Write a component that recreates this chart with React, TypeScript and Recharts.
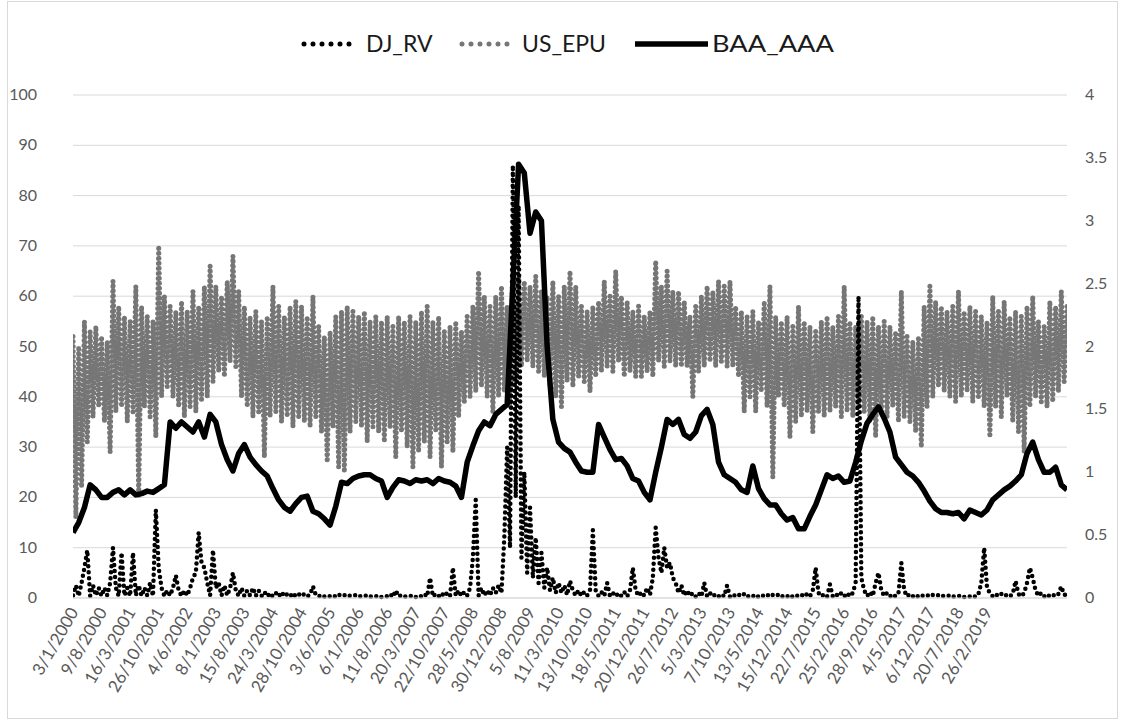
import React from 'react';
import { LineChart, Line, XAxis, YAxis, CartesianGrid } from 'recharts';

const tickLabels = [
  '3/1/2000', '9/8/2000', '16/3/2001', '26/10/2001', '4/6/2002', '8/1/2003', '15/8/2003',
  '24/3/2004', '28/10/2004', '3/6/2005', '6/1/2006', '11/8/2006', '20/3/2007', '22/10/2007',
  '28/5/2008', '30/12/2008', '5/8/2009', '11/3/2010', '13/10/2010', '18/5/2011', '20/12/2011',
  '26/7/2012', '5/3/2013', '7/10/2013', '13/5/2014', '15/12/2014', '22/7/2015', '25/2/2016',
  '28/9/2016', '4/5/2017', '6/12/2017', '20/7/2018', '26/2/2019',
];

const leftTicks = [0, 10, 20, 30, 40, 50, 60, 70, 80, 90, 100];
const rightTicks = [0, 0.5, 1, 1.5, 2, 2.5, 3, 3.5, 4];

// US_EPU upper / lower swings (every other observation)
const epuHigh = [
  52, 50, 55, 53, 54, 52, 51, 63, 58, 56,
  55, 62, 58, 56, 55, 70, 60, 58, 57, 59,
  57, 61, 58, 62, 66, 62, 60, 63, 68, 61,
  58, 56, 57, 55, 56, 62, 58, 56, 58, 59,
  58, 56, 60, 54, 52, 53, 56, 57, 58, 57,
  56, 57, 55, 56, 55, 56, 54, 56, 55, 56,
  55, 57, 58, 55, 56, 53, 54, 55, 53, 56,
  58, 65, 60, 58, 60, 62, 58, 60, 64, 63,
  62, 64, 61, 60, 63, 60, 62, 65, 62, 58,
  57, 58, 59, 63, 60, 65, 60, 59, 57, 58,
  56, 57, 67, 62, 65, 61, 61, 59, 56, 58,
  60, 62, 61, 63, 62, 63, 58, 57, 56, 57,
  55, 59, 62, 56, 55, 56, 54, 58, 55, 54,
  53, 55, 56, 54, 56, 62, 55, 54, 56, 55,
  56, 54, 55, 54, 53, 61, 52, 51, 52, 58,
  62, 59, 58, 57, 58, 61, 57, 58, 57, 56,
  55, 60, 57, 59, 56, 57, 56, 58, 60, 55,
  54, 59, 58, 61, 58,
];
const epuLow = [
  16, 22, 31, 36, 38, 35, 29, 37, 38, 35,
  37, 20, 38, 36, 32, 40, 42, 40, 38, 36,
  38, 37, 39, 40, 43, 45, 44, 47, 46, 40,
  38, 36, 37, 28, 36, 37, 35, 36, 34, 36,
  35, 34, 36, 33, 27, 34, 26, 25, 33, 35,
  34, 31, 34, 33, 31, 34, 28, 33, 30, 26,
  29, 31, 28, 33, 26, 31, 29, 36, 39, 40,
  41, 42, 40, 37, 40, 41, 38, 43, 46, 47,
  46, 45, 44, 42, 40, 38, 43, 42, 44, 43,
  41, 44, 45, 46, 45, 47, 44, 45, 44, 44,
  45, 44, 47, 46, 47, 46, 46, 46, 40, 45,
  46, 47, 46, 47, 46, 46, 44, 37, 40, 37,
  41, 38, 24, 40, 38, 32, 35, 36, 37, 33,
  37, 36, 37, 38, 36, 37, 36, 38, 37, 35,
  32, 37, 36, 38, 35, 36, 35, 33, 30, 38,
  40, 42, 41, 40, 39, 40, 41, 39, 40, 38,
  32, 38, 36, 40, 35, 33, 29, 38, 40, 39,
  38, 39, 41, 43,
];

const djRv = [
  0.5, 2.5, 0.4, 3, 6, 9.5, 0.4, 2.5, 0.5, 2,
  0.4, 2, 0.5, 3, 10, 2, 0.4, 9, 0.5, 2,
  0.4, 9, 0.5, 2.5, 0.4, 2, 0.5, 3, 0.4, 17.5,
  6, 2, 0.4, 1.5, 0.5, 2, 4.5, 1.5, 0.4, 1.5,
  0.5, 2, 4, 5, 13, 7, 6, 3, 0.5, 9.5,
  2, 3, 0.5, 2.5, 0.5, 2, 5, 1.5, 0.4, 2,
  0.4, 1.5, 0.5, 2, 0.4, 1.5, 0.4, 1.2, 0.3, 1,
  0.3, 1, 0.3, 1.2, 0.3, 0.8, 0.3, 1, 0.3, 0.8,
  0.3, 0.8, 0.3, 0.7, 2.3, 0.6, 0.3, 0.7, 0.3, 0.6,
  0.3, 0.6, 0.2, 0.7, 0.3, 0.6, 0.2, 0.5, 0.3, 0.6,
  0.2, 0.5, 0.3, 0.6, 0.2, 0.5, 0.3, 0.6, 0.2, 0.5,
  0.3, 0.8, 0.2, 1.5, 0.3, 0.6, 0.2, 0.5, 0.3, 0.6,
  0.2, 0.6, 0.3, 0.8, 0.3, 4, 0.3, 0.8, 0.3, 1,
  0.3, 1, 0.4, 6, 0.4, 1.5, 0.4, 1.2, 0.5, 2,
  8, 19.5, 0.5, 2, 0.5, 1.5, 0.5, 2, 1, 2.5,
  1, 12, 30, 10, 86, 20, 78, 8, 25, 5,
  18, 4, 12, 3, 9, 2, 6, 1.5, 4, 1,
  3, 1, 2.5, 0.6, 3.4, 1.5, 0.5, 1.5, 0.4, 1.2,
  0.5, 1.5, 13.5, 1.5, 0.4, 1.2, 0.4, 3, 0.4, 1,
  0.3, 1, 0.4, 1.2, 0.3, 1.5, 6, 1.5, 0.4, 1.2,
  0.5, 2, 0.6, 4, 14, 8, 5, 10, 6, 7,
  4, 3, 1, 2.5, 0.5, 1.5, 0.4, 1, 0.3, 1,
  0.3, 3, 0.3, 1, 0.3, 0.8, 0.3, 0.8, 0.3, 2.5,
  0.3, 0.8, 0.3, 0.7, 0.3, 0.8, 0.2, 0.6, 0.3, 0.7,
  0.2, 0.6, 0.3, 0.7, 0.2, 0.6, 0.3, 0.7, 0.2, 0.6,
  0.3, 0.7, 0.2, 0.6, 0.3, 0.7, 0.2, 0.8, 0.3, 1.5,
  6, 1, 0.3, 0.8, 0.3, 2.7, 0.3, 0.8, 0.3, 1,
  0.3, 1, 0.3, 1, 3, 60, 4, 1.5, 0.4, 1.2,
  0.4, 3, 5, 1.5, 0.4, 1, 0.3, 0.8, 0.3, 1,
  7, 1.5, 0.3, 0.8, 0.3, 0.7, 0.2, 0.6, 0.3, 0.6,
  0.2, 0.6, 0.3, 0.6, 0.2, 0.5, 0.3, 0.6, 0.2, 0.5,
  0.3, 0.6, 0.2, 0.5, 0.3, 0.6, 0.2, 0.8, 3, 10,
  2, 1, 0.3, 0.8, 0.3, 0.8, 0.3, 0.7, 0.3, 0.8,
  3.4, 0.8, 0.3, 1, 3, 6, 4, 1.5, 0.4, 1,
  0.3, 0.8, 0.3, 0.7, 0.3, 0.8, 2.3, 0.6, 0.8,
];

// BAA_AAA spread (every other observation)
const baaAaa = [
  0.52, 0.6, 0.72, 0.9, 0.86, 0.8, 0.8, 0.84, 0.86, 0.82,
  0.86, 0.82, 0.83, 0.85, 0.84, 0.87, 0.9, 1.4, 1.35, 1.4,
  1.36, 1.32, 1.4, 1.28, 1.46, 1.4, 1.22, 1.1, 1.01, 1.15,
  1.22, 1.12, 1.06, 1.01, 0.97, 0.87, 0.78, 0.72, 0.69, 0.75,
  0.8, 0.81, 0.69, 0.67, 0.63, 0.58, 0.73, 0.92, 0.91, 0.95,
  0.97, 0.98, 0.98, 0.95, 0.93, 0.8, 0.88, 0.94, 0.93, 0.91,
  0.94, 0.93, 0.94, 0.91, 0.95, 0.93, 0.92, 0.89, 0.8, 1.08,
  1.21, 1.33, 1.4, 1.37, 1.46, 1.5, 1.54, 2.5, 3.45, 3.38,
  2.9, 3.07, 3.0, 2.0, 1.42, 1.24, 1.19, 1.16, 1.08, 1.01,
  1.0, 1.0, 1.38, 1.28, 1.18, 1.1, 1.11, 1.05, 0.95, 0.93,
  0.84, 0.78, 1.0, 1.2, 1.42, 1.38, 1.42, 1.3, 1.27, 1.32,
  1.45, 1.5, 1.38, 1.08, 0.98, 0.95, 0.92, 0.86, 0.84, 1.05,
  0.87, 0.79, 0.74, 0.74, 0.67, 0.62, 0.64, 0.55, 0.55, 0.65,
  0.74, 0.86, 0.98, 0.95, 0.97, 0.92, 0.93, 1.08, 1.25, 1.39,
  1.46, 1.52, 1.43, 1.32, 1.12, 1.06, 1.0, 0.97, 0.92, 0.85,
  0.77, 0.71, 0.68, 0.68, 0.67, 0.68, 0.63, 0.7, 0.68, 0.66,
  0.7, 0.78, 0.82, 0.86, 0.89, 0.93, 0.98, 1.15, 1.24, 1.1,
  1.0, 1.0, 1.04, 0.9, 0.86,
];

const data = djRv.map((dj, i) => ({
  x: i,
  epu: i % 2 === 0 ? epuHigh[i / 2] : epuLow[(i - 1) / 2],
  dj,
  baa: i % 2 === 0 ? baaAaa[i / 2] : null,
}));

const xTicks = tickLabels.map((_, i) => i * 10);
const FONT = 'Lato, "Open Sans", sans-serif';
const AXIS_COLOR = '#595959';

const XTick = (props: any) => {
  const { x, payload } = props;
  const label = tickLabels[Math.round(payload.value / 10)];
  return (
    <text
      transform={`translate(${x + 6},${612}) rotate(-60)`}
      textAnchor="end"
      fontSize={17}
      fontFamily={FONT}
      fill={AXIS_COLOR}
    >
      {label}
    </text>
  );
};

const LeftTick = (props: any) => {
  const { y, payload } = props;
  return (
    <text x={37} y={y} dy={5} textAnchor="end" fontSize={16} fontFamily={FONT} fill={AXIS_COLOR}>
      {payload.value}
    </text>
  );
};

const RightTick = (props: any) => {
  const { y, payload } = props;
  return (
    <text x={1085} y={y} dy={5} textAnchor="start" fontSize={16} fontFamily={FONT} fill={AXIS_COLOR}>
      {payload.value}
    </text>
  );
};

const Legend = () => (
  <svg
    width={1123}
    height={80}
    style={{ position: 'absolute', left: 0, top: 0, pointerEvents: 'none' }}
  >
    <line x1={304} y1={44} x2={358} y2={44} stroke="#000" strokeWidth={5} strokeDasharray="0 9" strokeLinecap="round" />
    <text x={366} y={52} fontSize={23} fontFamily={FONT} fill="#1a1a1a">DJ_RV</text>
    <line x1={462} y1={44} x2={516} y2={44} stroke="#767676" strokeWidth={5} strokeDasharray="0 9" strokeLinecap="round" />
    <text x={522} y={52} fontSize={23} fontFamily={FONT} fill="#1a1a1a">US_EPU</text>
    <line x1={635} y1={44} x2={708} y2={44} stroke="#000" strokeWidth={5.5} />
    <text x={712} y={52} fontSize={23} fontFamily={FONT} fill="#1a1a1a" textLength={122} lengthAdjust="spacingAndGlyphs">BAA_AAA</text>
  </svg>
);

export default function App() {
  return (
    <div style={{ position: 'absolute', left: 0, top: 0, width: 1123, height: 723, background: '#fff' }}>
      <div
        style={{
          position: 'absolute',
          left: 7,
          top: 1,
          width: 1111,
          height: 718,
          border: '1px solid #d9d9d9',
          boxSizing: 'border-box',
        }}
      />
      <LineChart
        width={1123}
        height={723}
        data={data}
        margin={{ top: 95, right: 0, bottom: 0, left: 0 }}
        style={{ position: 'absolute', left: 0, top: 0 }}
      >
        <CartesianGrid vertical={false} stroke="#d9d9d9" yAxisId="left" />
        <XAxis
          dataKey="x"
          type="number"
          domain={[0, 348]}
          ticks={xTicks}
          interval={0}
          height={125}
          axisLine={{ stroke: '#d9d9d9' }}
          tickLine={false}
          tick={<XTick />}
          allowDataOverflow
        />
        <YAxis
          yAxisId="left"
          domain={[0, 100]}
          ticks={leftTicks}
          width={73}
          axisLine={false}
          tickLine={false}
          tick={<LeftTick />}
          interval={0}
        />
        <YAxis
          yAxisId="right"
          orientation="right"
          domain={[0, 4]}
          ticks={rightTicks}
          width={56}
          axisLine={false}
          tickLine={false}
          tick={<RightTick />}
          interval={0}
        />
        <Line
          yAxisId="left"
          type="linear"
          dataKey="epu"
          stroke="#767676"
          strokeWidth={5}
          strokeDasharray="0 5"
          strokeLinecap="round"
          dot={false}
          activeDot={false}
          isAnimationActive={false}
        />
        <Line
          yAxisId="left"
          type="linear"
          dataKey="dj"
          stroke="#000"
          strokeWidth={4.5}
          strokeDasharray="0 6"
          strokeLinecap="round"
          dot={false}
          activeDot={false}
          isAnimationActive={false}
        />
        <Line
          yAxisId="right"
          type="linear"
          dataKey="baa"
          stroke="#000"
          strokeWidth={5.5}
          strokeLinejoin="round"
          connectNulls
          dot={false}
          activeDot={false}
          isAnimationActive={false}
        />
      </LineChart>
      <Legend />
    </div>
  );
}
